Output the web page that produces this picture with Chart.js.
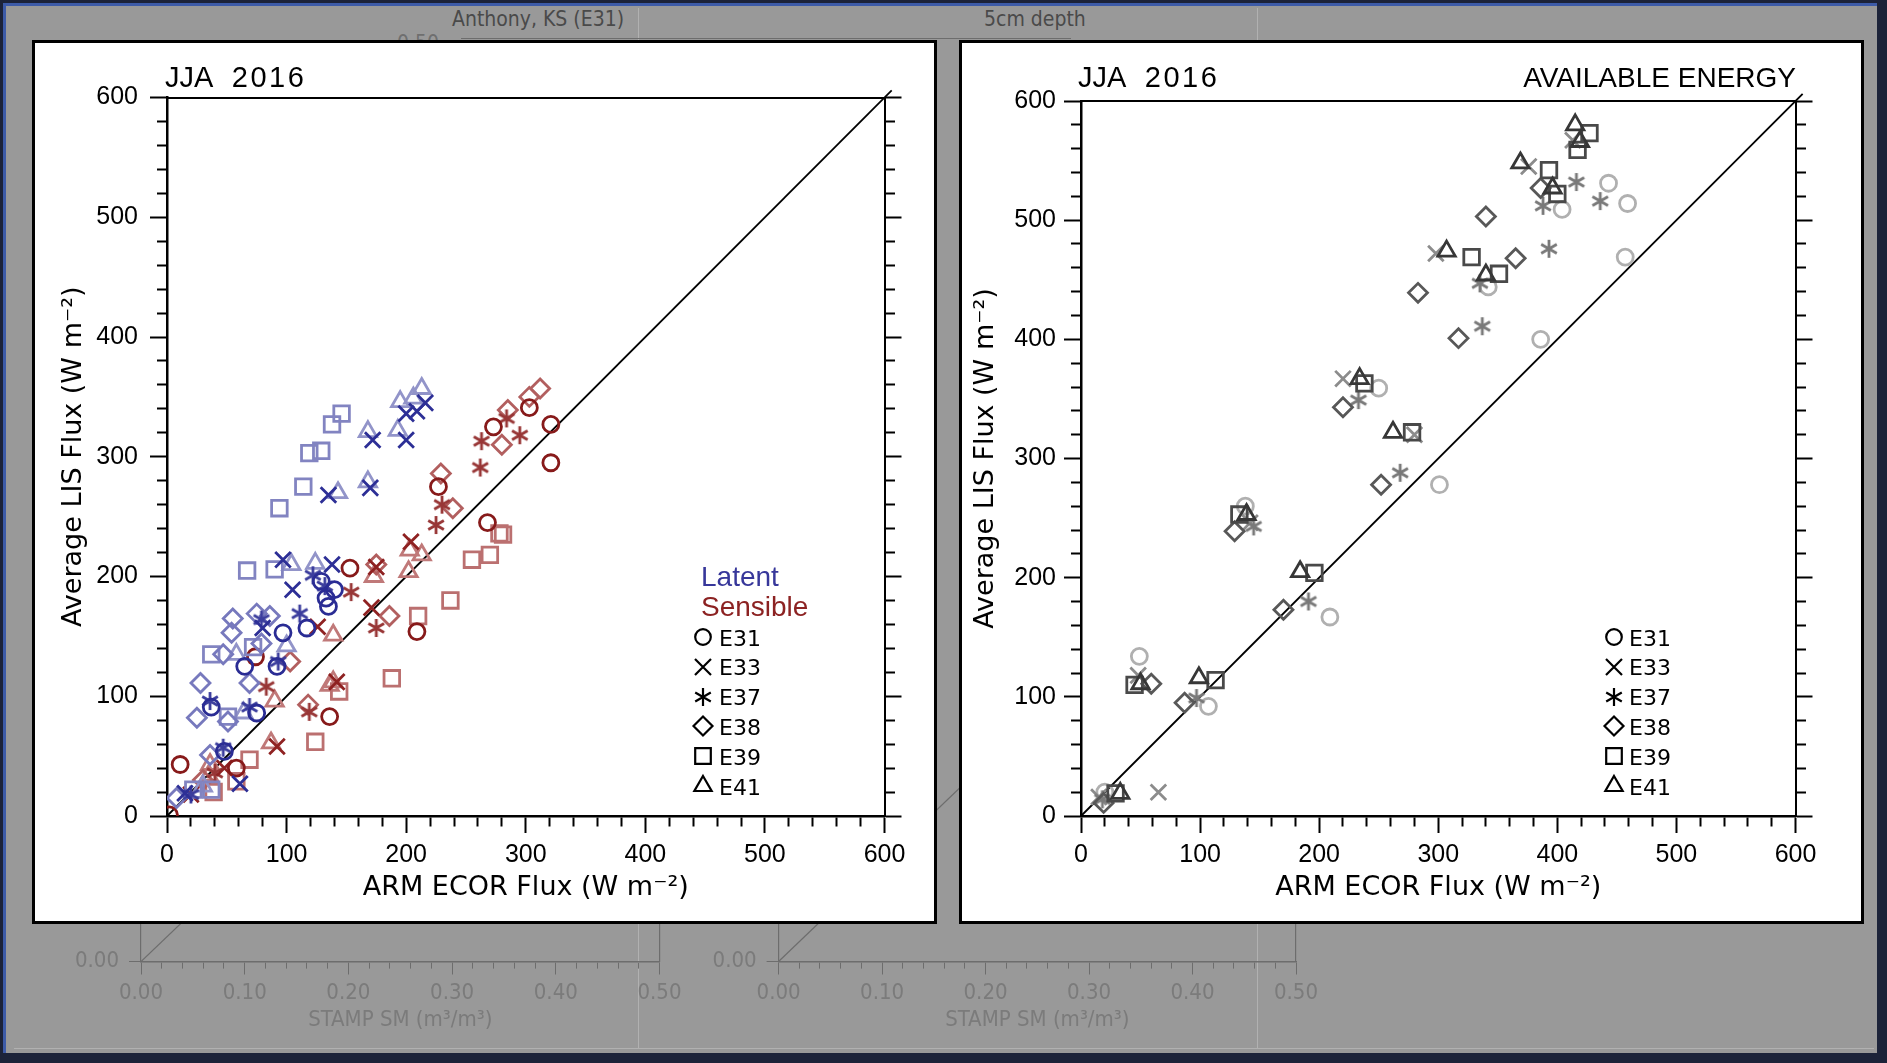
<!DOCTYPE html>
<html>
<head>
<meta charset="utf-8">
<title>JJA 2016 LIS vs ARM ECOR fluxes</title>
<script src="https://cdn.jsdelivr.net/npm/chart.js@4.4.1/dist/chart.umd.min.js"></script>
<style>
  html, body { margin: 0; padding: 0; }
  body { position: relative; width: 1887px; height: 1063px; overflow: hidden; background: #1c2339; font-family: 'Liberation Sans', Arial, sans-serif; }
  .abs { position: absolute; }
  #screen { left: 3px; top: 3px; width: 1874px; height: 1050px; background: #999; border-left: 3px solid #3d5ba8; border-top: 3px solid #3d5ba8; box-sizing: border-box; }
  .rule { background: #b1b1b1; }
  .ghost { z-index: 1; }
  .panel { top: 40px; width: 905px; height: 884px; background: #fff; border: 3px solid #000; box-sizing: border-box; z-index: 2; }
  .panel canvas { display: block; }
  .label { z-index: 3; white-space: nowrap; color: #000; }
  .ghost-text { color: #4a4a4a; font-family: 'Liberation Sans Narrow', 'DejaVu Sans Condensed', sans-serif; font-size: 21px; line-height: 21px; white-space: nowrap; z-index: 1; }
  .title { font-size: 29px; line-height: 29px; top: 63px; }
  .key { font-family: 'DejaVu Sans', sans-serif; font-size: 22px; line-height: 22px; }
</style>
</head>
<body>
<div id="screen" class="abs"></div>
<div class="abs rule" style="left:638px;top:8px;width:1px;height:1040px"></div>
<div class="abs rule" style="left:1257px;top:8px;width:1px;height:1040px"></div>
<div class="abs rule" style="left:14px;top:1048px;width:1860px;height:1px"></div>
<div class="abs ghost-text" style="left:452px;top:9px">Anthony, KS (E31)</div>
<div class="abs ghost-text" style="left:984px;top:9px">5cm depth</div>
<div class="abs ghost-text" style="left:397px;top:33px;color:#6f6f6f">0.50</div>
<div class="abs ghost" style="left:461px;top:38px;width:610px;height:1px;background:#6d6d6d"></div>
<canvas id="ghostLeft" class="abs ghost" width="700" height="1025" style="left:20px;top:20px"></canvas>
<canvas id="ghostRight" class="abs ghost" width="700" height="1025" style="left:640px;top:20px"></canvas>
<div class="abs panel" style="left:32px"><canvas id="fluxChart" width="899" height="878"></canvas></div>
<div class="abs panel" style="left:959px"><canvas id="energyChart" width="899" height="878"></canvas></div>
<div class="abs label title" style="left:165px;word-spacing:12px">JJA <span style="letter-spacing:2.5px">2016</span></div>
<div class="abs label title" style="left:1078px;word-spacing:12px">JJA <span style="letter-spacing:2.5px">2016</span></div>
<div class="abs label title" style="right:91px;font-size:28px">AVAILABLE ENERGY</div>
<div class="abs label" style="left:701px;top:563px;font-size:28px;line-height:28px;color:#37379a">Latent</div>
<div class="abs label" style="left:701px;top:593px;font-size:28px;line-height:28px;color:#8c2222">Sensible</div>
<div id="keyLeft"></div>
<div id="keyRight"></div>
<script>
const stations = ['E31', 'E33', 'E37', 'E38', 'E39', 'E41'];

// Latent heat flux, W m-2 (x: ARM ECOR, y: average LIS)
const latentE31x = [37, 48, 75, 65, 92, 97, 117, 135, 133, 140, 129];
const latentE31y = [91, 54, 86, 125, 125, 153, 157, 175, 182, 189, 196];
const latentE33x = [15, 61, 80, 105, 97, 138, 135, 170, 172, 200, 200, 209, 216];
const latentE33y = [19, 27, 157, 189, 214, 210, 268, 274, 314, 314, 336, 338, 345];
const latentE37x = [20, 47, 36, 69, 79, 93, 111, 122, 132];
const latentE37y = [18, 57, 96, 91, 164, 129, 169, 201, 192];
const latentE38x = [8, 36, 25, 51, 28, 69, 47, 54, 55, 75, 86, 79];
const latentE38y = [15, 51, 82, 79, 111, 111, 135, 153, 165, 169, 167, 144];
const latentE39x = [22, 37, 51, 37, 72, 67, 90, 94, 114, 119, 129, 138, 146];
const latentE39y = [22, 22, 83, 135, 141, 205, 206, 257, 275, 303, 305, 327, 336];
const latentE41x = [30, 64, 58, 100, 104, 124, 143, 168, 168, 193, 195, 206, 213];
const latentE41y = [25, 86, 135, 142, 210, 211, 270, 279, 321, 322, 346, 349, 357];

// Sensible heat flux, W m-2
const sensibleE31x = [2, 11, 58, 74, 136, 153, 209, 227, 268, 273, 303, 321, 321];
const sensibleE31y = [1, 43, 40, 133, 83, 207, 154, 275, 245, 325, 341, 327, 295];
const sensibleE33x = [20, 48, 92, 126, 142, 171, 175, 204];
const sensibleE33y = [18, 40, 58, 158, 112, 174, 208, 229];
const sensibleE37x = [40, 83, 119, 154, 175, 225, 230, 262, 263, 284, 295];
const sensibleE37y = [36, 108, 87, 187, 157, 243, 260, 291, 313, 332, 318];
const sensibleE38x = [30, 103, 118, 186, 175, 229, 239, 280, 285, 303, 312];
const sensibleE38y = [30, 129, 93, 167, 210, 286, 257, 310, 339, 350, 357];
const sensibleE39x = [39, 58, 69, 124, 144, 188, 210, 237, 255, 270, 278, 281];
const sensibleE39y = [20, 29, 47, 62, 104, 115, 167, 180, 214, 218, 236, 235];
const sensibleE41x = [36, 35, 87, 90, 136, 139, 139, 173, 203, 213, 202];
const sensibleE41y = [43, 34, 61, 96, 109, 151, 112, 200, 222, 218, 204];

// Available energy (latent + sensible), W m-2
const energyE31x = [20, 49, 107, 138, 209, 250, 301, 342, 386, 404, 443, 459, 457];
const energyE31y = [20, 134, 92, 260, 167, 359, 278, 444, 400, 509, 531, 514, 469];
const energyE33x = [15, 65, 48, 142, 220, 280, 298, 376, 413];
const energyE33y = [16, 20, 118, 246, 367, 320, 472, 545, 567];
const energyE37x = [18, 97, 145, 191, 233, 268, 335, 337, 393, 388, 416, 436];
const energyE37y = [14, 99, 243, 180, 349, 288, 447, 411, 476, 512, 532, 516];
const energyE38x = [19, 59, 87, 129, 170, 220, 252, 283, 317, 340, 365, 386];
const energyE38y = [11, 111, 95, 239, 173, 343, 278, 439, 401, 503, 468, 527];
const energyE39x = [29, 45, 113, 133, 196, 238, 278, 328, 351, 393, 400, 417, 427];
const energyE39y = [19, 110, 114, 253, 204, 363, 322, 469, 455, 542, 522, 559, 573];
const energyE41x = [33, 50, 99, 139, 184, 234, 262, 307, 340, 369, 396, 415, 419];
const energyE41y = [19, 111, 116, 253, 205, 367, 322, 474, 454, 548, 527, 580, 566];

// 1:1 reference line
const oneToOne = [0, 606];

// soil moisture panels underneath
const ghostTrendX = [0, 0.5];
const ghostTrendY = [0, 0.27];

const latentX = { E31: latentE31x, E33: latentE33x, E37: latentE37x, E38: latentE38x, E39: latentE39x, E41: latentE41x };
const latentY = { E31: latentE31y, E33: latentE33y, E37: latentE37y, E38: latentE38y, E39: latentE39y, E41: latentE41y };
const sensibleX = { E31: sensibleE31x, E33: sensibleE33x, E37: sensibleE37x, E38: sensibleE38x, E39: sensibleE39x, E41: sensibleE41x };
const sensibleY = { E31: sensibleE31y, E33: sensibleE33y, E37: sensibleE37y, E38: sensibleE38y, E39: sensibleE39y, E41: sensibleE41y };
const energyX = { E31: energyE31x, E33: energyE33x, E37: energyE37x, E38: energyE38x, E39: energyE39x, E41: energyE41x };
const energyY = { E31: energyE31y, E33: energyE33y, E37: energyE37y, E38: energyE38y, E39: energyE39y, E41: energyE41y };

const latentColors = { E31: '#2a2c94', E33: '#2d2f96', E37: '#3b3d9d', E38: '#7779bd', E39: '#8284c1', E41: '#9294c9' };
const sensibleColors = { E31: '#871a1a', E33: '#8f2222', E37: '#983636', E38: '#b25f5f', E39: '#bb7070', E41: '#c07979' };
const energyColors = { E31: '#b0b0b0', E33: '#8c8c8c', E37: '#797979', E38: '#585858', E39: '#494949', E41: '#373737' };

const markers = {
  E31: { style: 'circle', radius: 8 },
  E33: { style: 'crossRot', radius: 11 },
  E37: { style: 'asterisk', radius: 9 },
  E38: { style: 'rectRot', radius: 9.5 },
  E39: { style: 'rect', radius: 11 },
  E41: { style: 'triangle', radius: 10 }
};

function drawGlyph(g, shape, cx, cy, color, lw) {
  g.strokeStyle = color;
  g.lineWidth = lw;
  g.beginPath();
  if (shape === 'circle') {
    g.arc(cx, cy, 7.8, 0, 2 * Math.PI);
  } else if (shape === 'crossRot') {
    const d = 8;
    g.moveTo(cx - d, cy - d); g.lineTo(cx + d, cy + d);
    g.moveTo(cx + d, cy - d); g.lineTo(cx - d, cy + d);
  } else if (shape === 'asterisk') {
    const r = 9;
    for (const deg of [90, 30, 150]) {
      const t = deg * Math.PI / 180;
      g.moveTo(cx - r * Math.cos(t), cy - r * Math.sin(t));
      g.lineTo(cx + r * Math.cos(t), cy + r * Math.sin(t));
    }
  } else if (shape === 'rectRot') {
    const r = 9.5;
    g.moveTo(cx - r, cy); g.lineTo(cx, cy - r); g.lineTo(cx + r, cy); g.lineTo(cx, cy + r); g.closePath();
  } else if (shape === 'rect') {
    g.rect(cx - 7.8, cy - 7.8, 15.6, 15.6);
  } else if (shape === 'triangle') {
    const r = 10;
    g.moveTo(cx, cy - r); g.lineTo(cx + r * 0.866, cy + r * 0.5); g.lineTo(cx - r * 0.866, cy + r * 0.5); g.closePath();
  }
  g.stroke();
}

// Chart.js has no six-armed asterisk, so it gets a small canvas per colour
function asteriskImage(color) {
  const c = document.createElement('canvas');
  c.width = c.height = 24;
  drawGlyph(c.getContext('2d'), 'asterisk', 12, 12, color, 2.8);
  return c;
}

function scatterSet(xs, ys, station, color, order) {
  const m = markers[station];
  return {
    label: station,
    data: xs.map((x, i) => ({ x, y: ys[i] })),
    order,
    showLine: false,
    pointStyle: m.style === 'asterisk' ? asteriskImage(color) : m.style,
    pointRadius: m.radius,
    pointHoverRadius: m.radius,
    pointBorderWidth: 2.8,
    pointBorderColor: color,
    pointBackgroundColor: 'rgba(0,0,0,0)'
  };
}

function diagonalSet() {
  return {
    type: 'line',
    data: oneToOne.map(v => ({ x: v, y: v })),
    borderColor: '#000',
    borderWidth: 1.8,
    pointRadius: 0,
    clip: false,
    order: 100
  };
}

const isMajor = v => Math.abs(v % 100) < 1e-6;
const minorOut = c => (c.tick && !isMajor(c.tick.value)) ? [9, 40] : [];
const minorIn = c => (c.tick && !isMajor(c.tick.value)) ? [0, 7, 9, 40] : [];

function fluxScales(box) {
  const tickFont = { family: 'Liberation Sans', size: 25 };
  const titleFont = { family: 'DejaVu Sans', size: 27 };
  const ticks = { stepSize: 20, autoSkip: false, maxRotation: 0, color: '#000', font: tickFont, callback: v => isMajor(v) ? v : '' };
  const base = { type: 'linear', min: 0, max: 600 };
  return {
    x: {
      ...base, position: 'bottom',
      ticks: { ...ticks, padding: 7 },
      grid: { drawOnChartArea: false, tickLength: 17, tickWidth: 2, tickColor: '#000', tickBorderDash: minorOut },
      border: { color: '#000', width: 2.5 },
      title: { display: true, text: 'ARM ECOR Flux (W m⁻²)', color: '#000', font: titleFont, padding: { bottom: 17 } },
      afterFit: s => { s.height = box.bottom; }
    },
    x2: {
      ...base, position: 'top',
      ticks: { display: false },
      grid: { drawOnChartArea: false, drawTicks: false },
      border: { color: '#000', width: 2 },
      afterFit: s => { s.height = box.top; }
    },
    y: {
      ...base, position: 'left',
      ticks: { ...ticks, padding: box.labelPad },
      grid: { drawOnChartArea: false, tickLength: 17, tickWidth: 2, tickColor: '#000', tickBorderDash: minorIn },
      border: { color: '#000', width: 2.5 },
      title: { display: true, text: 'Average LIS Flux (W m⁻²)', color: '#000', font: titleFont, padding: { top: box.titlePad } },
      afterFit: s => { s.width = box.left; }
    },
    y2: {
      ...base, position: 'right',
      ticks: { display: false, stepSize: 20 },
      grid: { drawOnChartArea: false, tickLength: 17, tickWidth: 2, tickColor: '#000', tickBorderDash: minorOut },
      border: { color: '#000', width: 2 },
      afterFit: s => { s.width = box.right; }
    }
  };
}

const baseOptions = {
  responsive: false,
  animation: false,
  events: [],
  layout: { padding: 0 },
  plugins: { legend: { display: false }, tooltip: { enabled: false } }
};

// left panel: latent (blue) and sensible (red)
const fluxSets = [];
stations.forEach((s, i) => fluxSets.push(scatterSet(sensibleX[s], sensibleY[s], s, sensibleColors[s], 20 + i)));
stations.forEach((s, i) => fluxSets.push(scatterSet(latentX[s], latentY[s], s, latentColors[s], 10 + i)));
fluxSets.push(diagonalSet());

new Chart(document.getElementById('fluxChart'), {
  type: 'scatter',
  data: { datasets: fluxSets },
  options: { ...baseOptions, scales: fluxScales({ left: 132, right: 49.5, top: 54.5, bottom: 105, labelPad: 12, titlePad: 23 }) }
});

// right panel: available energy in greys
const energySets = stations.map((s, i) => scatterSet(energyX[s], energyY[s], s, energyColors[s], 10 - i));
energySets.push(diagonalSet());

new Chart(document.getElementById('energyChart'), {
  type: 'scatter',
  data: { datasets: energySets },
  options: { ...baseOptions, scales: fluxScales({ left: 119, right: 65.5, top: 58, bottom: 105, labelPad: 8, titlePad: 8 }) }
});

// faded soil-moisture axes behind the flux panels
function ghostChart(id, leftWidth, rightWidth) {
  const grey = '#6d6d6d';
  const font = { family: "'Liberation Sans Narrow', 'DejaVu Sans Condensed', sans-serif", size: 22 };
  const tenth = v => Math.abs(v * 10 - Math.round(v * 10)) < 1e-6;
  new Chart(document.getElementById(id), {
    type: 'scatter',
    data: { datasets: [{
      type: 'line',
      data: ghostTrendX.map((x, i) => ({ x, y: ghostTrendY[i] })),
      borderColor: grey, borderWidth: 1.2, pointRadius: 0
    }] },
    options: {
      ...baseOptions,
      layout: { padding: { top: 20 } },
      scales: {
        x: {
          type: 'linear', min: 0, max: 0.5, position: 'bottom',
          ticks: { stepSize: 0.02, autoSkip: false, maxRotation: 0, color: '#7b7b7b', font, padding: 6,
                   callback: v => tenth(v) ? v.toFixed(2) : '' },
          grid: { drawOnChartArea: false, tickLength: 13, tickWidth: 1, tickColor: grey,
                  tickBorderDash: c => (c.tick && !tenth(c.tick.value)) ? [6, 30] : [] },
          border: { color: grey, width: 1.6 },
          title: { display: true, text: 'STAMP SM (m³/m³)', color: '#7b7b7b', font, padding: { bottom: 12 } },
          afterFit: s => { s.height = 83.5; }
        },
        y: {
          type: 'linear', min: 0, max: 0.5, position: 'left',
          ticks: { stepSize: 0.1, color: '#7b7b7b', font, padding: 10, callback: v => v === 0 ? v.toFixed(2) : '' },
          grid: { drawOnChartArea: false, tickLength: 12, tickColor: grey },
          border: { color: grey, width: 1.2 },
          afterFit: s => { s.width = leftWidth; }
        },
        y2: {
          type: 'linear', min: 0, max: 0.5, position: 'right',
          ticks: { display: false },
          grid: { drawOnChartArea: false, drawTicks: false },
          border: { color: grey, width: 1.2 },
          afterFit: s => { s.width = rightWidth; }
        }
      }
    }
  });
}
ghostChart('ghostLeft', 121, 60.5);
ghostChart('ghostRight', 138.6, 44);

// station keys
function stationKey(id, glyphX, textX) {
  const host = document.getElementById(id);
  stations.forEach((s, i) => {
    const baseline = 645 + i * 29.8;
    const c = document.createElement('canvas');
    c.width = c.height = 26;
    c.className = 'abs label';
    c.style.left = (glyphX - 13) + 'px';
    c.style.top = (baseline - 8 - 13) + 'px';
    drawGlyph(c.getContext('2d'), markers[s].style, 13, 13, '#000', 2.2);
    host.appendChild(c);
    const t = document.createElement('div');
    t.className = 'abs label key';
    t.style.left = textX + 'px';
    t.style.top = (baseline - 17.5) + 'px';
    t.textContent = s;
    host.appendChild(t);
  });
}
stationKey('keyLeft', 703, 719);
stationKey('keyRight', 1614, 1629);
</script>
</body>
</html>
